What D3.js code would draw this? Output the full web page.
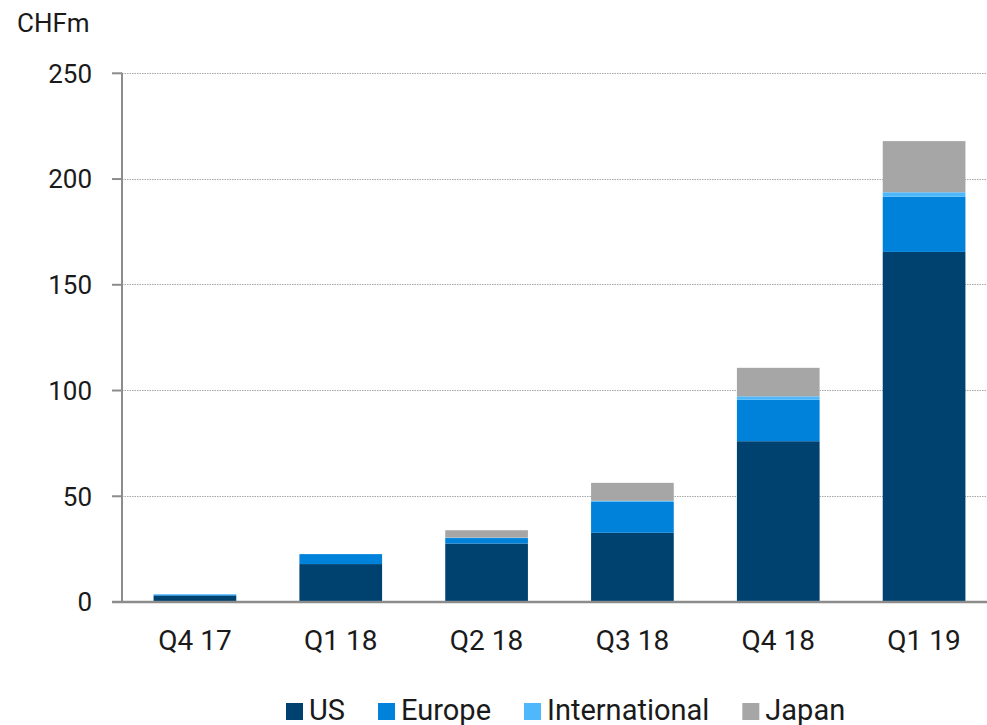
<!DOCTYPE html>
<html>
<head>
<meta charset="utf-8">
<script src="https://cdn.jsdelivr.net/npm/d3@7"></script>
<style>
  html, body { margin: 0; padding: 0; background: #fff; }
  svg { display: block; }
  text { font-family: Roboto, "Noto Sans", sans-serif; fill: #1a1a1a; }
</style>
</head>
<body>
<svg id="chart" width="987" height="725"></svg>
<script>
// Quarterly revenue by region, CHF millions
const quarters = ["Q4 17", "Q1 18", "Q2 18", "Q3 18", "Q4 18", "Q1 19"];
const seriesNames = ["US", "Europe", "International", "Japan"];
const usValues = [2.8, 17.7, 27.4, 32.5, 75.8, 165.3];
const europeValues = [0.4, 4.7, 2.6, 14.6, 19.6, 26.1];
const internationalValues = [0.3, 0, 0.2, 0.5, 1.6, 2.1];
const japanValues = [0, 0, 3.5, 8.5, 13.5, 24.2];
const yTicks = [0, 50, 100, 150, 200, 250];
const unitLabel = "CHFm";

const colors = {
  "US": "#00426f",
  "Europe": "#0082da",
  "International": "#4fb8fd",
  "Japan": "#a6a6a6"
};

const rows = quarters.map((q, i) => ({
  quarter: q,
  "US": usValues[i],
  "Europe": europeValues[i],
  "International": internationalValues[i],
  "Japan": japanValues[i]
}));

const svg = d3.select("#chart");
const W = 987;

const x = d3.scaleBand()
  .domain(quarters)
  .range([122, 997])
  .paddingInner(0.433)
  .paddingOuter(0.2165);

const y = d3.scaleLinear()
  .domain([0, 250])
  .range([601.5, 72.8]);

// gridlines
svg.append("g")
  .selectAll("line")
  .data(yTicks.filter(t => t > 0))
  .join("line")
  .attr("x1", 122)
  .attr("x2", W)
  .attr("y1", d => Math.round(y(d)) + 0.5)
  .attr("y2", d => Math.round(y(d)) + 0.5)
  .attr("stroke", "#a8a8a8")
  .attr("stroke-width", 1)
  .attr("stroke-dasharray", "1.5,1");

// stacked bars
const stack = d3.stack().keys(seriesNames);
const layers = stack(rows);

svg.append("g")
  .selectAll("g")
  .data(layers)
  .join("g")
  .attr("fill", d => colors[d.key])
  .selectAll("rect")
  .data(d => d)
  .join("rect")
  .attr("x", d => x(d.data.quarter))
  .attr("width", x.bandwidth())
  .attr("y", d => y(d[1]))
  .attr("height", d => Math.max(0, y(d[0]) - y(d[1])));

// y axis
const yAxis = d3.axisLeft(y)
  .tickValues(yTicks)
  .tickSize(10)
  .tickPadding(20)
  .tickFormat(d3.format("d"));

const gy = svg.append("g")
  .attr("transform", "translate(122,0)")
  .call(yAxis);
gy.select(".domain").attr("stroke", "#8c8c8c").attr("stroke-width", 2)
  .attr("d", `M0,${y(250)}V${y(0)}`);
gy.selectAll(".tick line").attr("stroke", "#8c8c8c").attr("stroke-width", 2);
gy.selectAll(".tick text")
  .attr("font-size", 26)
  .attr("dy", "0.36em")
  .attr("fill", "#1a1a1a");

// x axis baseline
svg.append("line")
  .attr("x1", 112)
  .attr("x2", W)
  .attr("y1", y(0) + 0.5)
  .attr("y2", y(0) + 0.5)
  .attr("stroke", "#8c8c8c")
  .attr("stroke-width", 2.5);

// category labels
svg.append("g")
  .selectAll("text")
  .data(quarters)
  .join("text")
  .attr("x", d => x(d) + x.bandwidth() / 2)
  .attr("y", 650)
  .attr("text-anchor", "middle")
  .attr("font-size", 28)
  .text(d => d);

// unit label
svg.append("text")
  .attr("x", 17)
  .attr("y", 32)
  .attr("font-size", 26)
  .text(unitLabel);

// legend
const legend = svg.append("g");
let lx = 286;
seriesNames.forEach(name => {
  legend.append("rect")
    .attr("x", lx)
    .attr("y", 703)
    .attr("width", 17)
    .attr("height", 17)
    .attr("fill", colors[name]);
  const t = legend.append("text")
    .attr("x", lx + 23)
    .attr("y", 719.5)
    .attr("font-size", 29)
    .text(name);
  lx += 23 + t.node().getComputedTextLength() + 33;
});
</script>
</body>
</html>
